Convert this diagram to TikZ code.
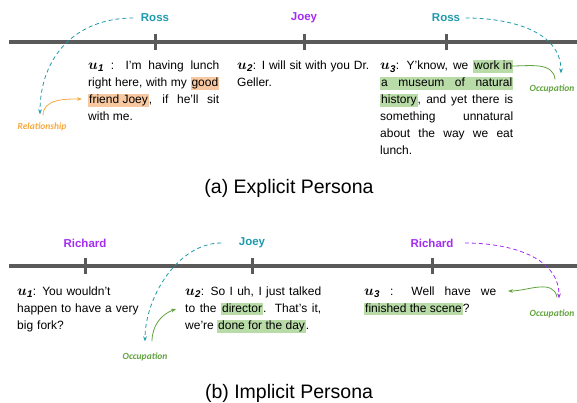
\documentclass[tikz,border=0pt]{standalone}
\usepackage{fontspec}
\usepackage{amsmath}
\usepackage{bm}
\setmainfont{Liberation Sans}
\newfontfamily\carlito{Carlito}
\usetikzlibrary{arrows.meta}

\definecolor{rossteal}{HTML}{1E9AAC}
\definecolor{namepurple}{HTML}{A42BF2}
\definecolor{relorange}{HTML}{F6A93E}
\definecolor{occgreen}{HTML}{62A33F}
\definecolor{hlorange}{HTML}{F8C9A0}
\definecolor{hlgreen}{HTML}{B8DBA8}
\definecolor{linegray}{HTML}{5A5A5A}

% highlight boxes
\newcommand{\hlstrut}{\rule[-2pt]{0pt}{8pt}}
\newcommand{\hlo}[1]{{\setlength{\fboxsep}{1pt}\colorbox{hlorange}{\hlstrut #1}}}
\newcommand{\hlg}[1]{{\setlength{\fboxsep}{1pt}\colorbox{hlgreen}{\hlstrut #1}}}
\newcommand{\hlgline}[1]{{\setlength{\fboxsep}{1pt}\colorbox{hlgreen}{\makebox[\dimexpr\linewidth-2pt][s]{\hlstrut #1}}}}
\newcommand{\utt}[1]{{\fontsize{14}{17}\selectfont$\bm{u_{\mathit{#1}}}$}}

\tikzset{
  utterance/.style={anchor=north west, inner sep=0pt, align=justify,
    font=\fontsize{12}{17}\selectfont},
  speaker/.style={font=\bfseries\fontsize{11.5}{13}\selectfont},
  persona/.style={font=\carlito\bfseries\itshape\fontsize{9.5}{11}\selectfont},
  timeline/.style={line width=4pt, linegray},
  tick/.style={line width=3pt, linegray},
  persdash/.style={dash pattern=on 4pt off 3pt, line width=0.8pt, -{Stealth[length=5pt]}},
  persline/.style={line width=0.8pt, occgreen},
  caption/.style={font=\fontsize{19.5}{22}\selectfont}
}

\begin{document}
\begin{tikzpicture}[x=1pt, y=-1pt]
  \useasboundingbox (0,0) rectangle (577,403);

  % (a) explicit persona
  \draw[timeline] (9,42) -- (577,42);
  \draw[tick] (155,34) -- (155,50);
  \draw[tick] (304,34) -- (304,50);
  \draw[tick] (446,34) -- (446,50);

  \node[speaker, rossteal] (ross1) at (155,18) {Ross};
  \node[speaker, namepurple] (joey1) at (304,18) {Joey};
  \node[speaker, rossteal] (ross2) at (446,18) {Ross};

  \node[utterance, text width=131pt] (u1a) at (88,60) {\rule{0pt}{9pt}\utt{1} : I'm having lunch\linebreak right here, with my \hlo{good}\linebreak \hlo{friend Joey}, if he'll sit\linebreak with me.};
  \node[utterance, text width=132pt] (u2a) at (237,60) {\rule{0pt}{9pt}\utt{2}: I will sit with you Dr.\linebreak Geller.};
  \node[utterance, text width=133pt] (u3a) at (380,60) {\rule{0pt}{9pt}\utt{3}: Y'know, we \hlg{work in}\linebreak \hlgline{a museum of natural}\linebreak \hlg{history}, and yet there is\linebreak something unnatural\linebreak about the way we eat\linebreak lunch.};

  \node[persona, relorange] (rel) at (42,127) {Relationship};
  \node[persona, occgreen] (occa) at (552,89) {Occupation};
  \coordinate (friend) at (82,99);
  \coordinate (workin) at (512,66);

  \draw[persdash, rossteal] ([xshift=-4pt]ross1.west) to[out=180, in=90, looseness=1.1] ([xshift=-2pt, yshift=5pt]rel.north);
  \draw[persline, relorange, -{Stealth[length=5pt]}] ([xshift=1pt, yshift=4pt]rel.north) to[out=90, in=180] (friend);
  \draw[persdash, rossteal] ([xshift=2pt]ross2.east) to[out=0, in=90] ([xshift=9pt, yshift=8pt]occa.north);
  \draw[persline] ([xshift=3pt, yshift=2pt]occa.north) to[out=95, in=0] (workin);

  \node[caption] (capa) at (289,188) {(a) Explicit Persona};

  % (b) implicit persona
  \draw[timeline] (9,266) -- (577,266);
  \draw[tick] (85,258) -- (85,274);
  \draw[tick] (252,258) -- (252,274);
  \draw[tick] (432,258) -- (432,274);

  \node[speaker, namepurple] (rich1) at (85,243) {Richard};
  \node[speaker, rossteal] (joey2) at (252,243) {Joey};
  \node[speaker, namepurple] (rich2) at (432,243) {Richard};

  \node[utterance, text width=135pt, align=left] (u1b) at (17,286) {\rule{0pt}{9pt}\utt{1}: You wouldn't\\happen to have a very\\big fork?};
  \node[utterance, text width=136pt] (u2b) at (185,286) {\rule{0pt}{9pt}\utt{2}: So I uh, I just talked\linebreak to the \hlg{director}. That's it,\linebreak we're \hlg{done for the day}.};
  \node[utterance, text width=132pt] (u3b) at (364,286) {\rule{0pt}{9pt}\utt{3} : Well have we\linebreak \hlg{finished the scene}?};

  \node[persona, occgreen] (occb) at (145,357) {Occupation};
  \node[persona, occgreen] (occc) at (552,314) {Occupation};
  \coordinate (director) at (176,309);
  \coordinate (wellwe) at (508,291);

  \draw[persdash, rossteal] ([xshift=-14pt]joey2.west) to[out=180, in=90, looseness=0.9] ([yshift=8pt]occb.north);
  \draw[persline, -{Stealth[length=5pt]}] ([xshift=7pt, yshift=8pt]occb.north) to[out=90, in=200] (director);
  \draw[persdash, namepurple] ([xshift=8pt]rich2.east) to[out=0, in=90] ([xshift=7pt, yshift=8pt]occc.north);
  \draw[persline, -{Stealth[length=5pt]}] ([xshift=5pt, yshift=9pt]occc.north) to[out=100, in=0] (wellwe);

  \node[caption] (capb) at (289,393) {(b) Implicit Persona};
\end{tikzpicture}
\end{document}
